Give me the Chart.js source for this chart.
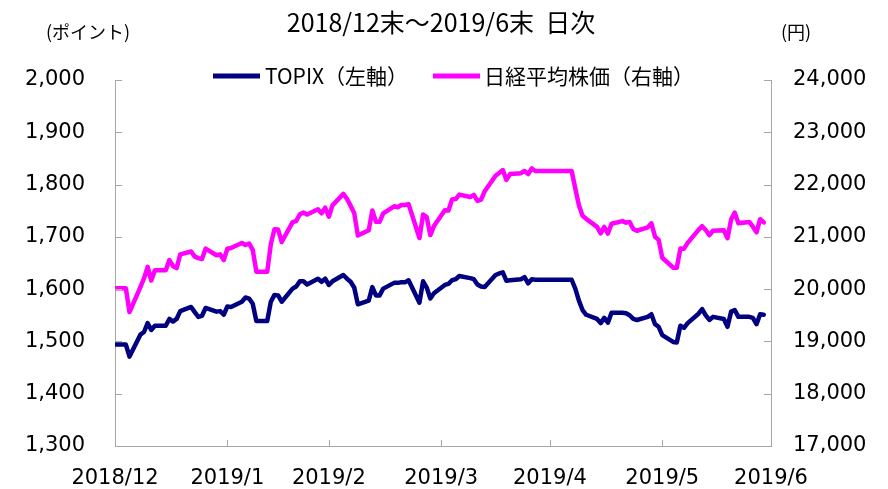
<!DOCTYPE html>
<html><head><meta charset="utf-8">
<script src="https://cdn.jsdelivr.net/npm/chart.js@4.4.1/dist/chart.umd.min.js"></script>
<style>html,body{margin:0;padding:0;background:#fff}canvas{display:block}</style>
</head><body>
<canvas id="c" width="888" height="489"></canvas>
<script>
// Weekday closes 2018/12/31 .. 2019/6/28 (market holidays carry the previous close); one row = Mon..Fri
const startDay = '2018-12-31';
const endDay = '2019-06-30';
const topix = [
1494,1494,1494,1494,1471,
1513,1518,1535,1522,1530,
1530,1543,1538,1543,1558,
1566,1556,1547,1549,1564,
1557,1558,1551,1567,1566,
1576,1584,1582,1572,1539,
1539,1576,1589,1588,1576,
1601,1605,1615,1615,1609,
1620,1614,1620,1608,1615,
1627,1620,1614,1603,1571,
1578,1604,1588,1588,1601,
1612,1612,1613,1613,1617,
1574,1615,1603,1582,1592,
1608,1610,1617,1619,1625,
1621,1619,1609,1605,1604,
1627,1630,1632,1616,1617,
1619,1623,1611,1619,1618,
1618,1618,1618,1618,1618,
1618,1601,1578,1560,1551,
1543,1535,1545,1536,1555,
1555,1554,1550,1543,1541,
1547,1552,1533,1528,1512,
1499,1498,1530,1526,1535,
1553,1562,1550,1541,1547,
1543,1528,1557,1560,1547,
1547,1545,1533,1552,1551
];
const nikkei = [
20015,20015,20015,20015,19562,
20039,20204,20427,20164,20360,
20360,20555,20443,20402,20666,
20719,20623,20594,20575,20774,
20649,20665,20557,20773,20788,
20884,20844,20874,20751,20333,
20333,20864,21144,21140,20901,
21282,21303,21431,21464,21426,
21528,21449,21557,21385,21603,
21822,21726,21597,21456,21026,
21125,21504,21290,21287,21451,
21585,21567,21609,21609,21627,
20977,21428,21378,21034,21206,
21509,21505,21713,21725,21808,
21762,21803,21688,21711,21871,
22169,22222,22278,22090,22200,
22218,22260,22201,22308,22259,
22259,22259,22259,22259,22259,
22259,21924,21603,21402,21345,
21191,21067,21189,21063,21250,
21302,21272,21283,21151,21117,
21183,21260,21003,20943,20601,
20411,20409,20776,20774,20885,
21134,21204,21130,21032,21117,
21124,20973,21334,21463,21259,
21286,21194,21087,21338,21276
];
const seriesNames = ['TOPIX（左軸）', '日経平均株価（右軸）'];
const titleText = '2018/12末～2019/6末  日次';
const leftUnit = '(ポイント)';
const rightUnit = '(円)';
const leftRange = [1300, 2000, 100];
const rightRange = [17000, 24000, 1000];

// categories: weekday dates and their calendar-day offsets; month-end tick labels
const categories = [];
const dayOffset = [];
const monthEndTicks = [];
const monthEndLabels = {};
let lastDay = 0;
{
  const d0 = new Date(startDay + 'T00:00:00Z').getTime();
  const d1 = new Date(endDay + 'T00:00:00Z').getTime();
  lastDay = Math.round((d1 - d0) / 86400000);
  for (let i = 0; i <= lastDay; i++) {
    const d = new Date(d0 + i * 86400000);
    const n = new Date(d0 + (i + 1) * 86400000);
    const wd = d.getUTCDay();
    if (wd !== 0 && wd !== 6 && categories.length < topix.length) {
      categories.push(d.getUTCFullYear() + '/' + (d.getUTCMonth() + 1) + '/' + d.getUTCDate());
      dayOffset.push(i);
    }
    if (n.getUTCMonth() !== d.getUTCMonth() || i === 0) {
      monthEndTicks.push(i);
      monthEndLabels[i] = d.getUTCFullYear() + '/' + (d.getUTCMonth() + 1);
    }
  }
}
const toPoints = arr => arr.map((v, i) => ({x: dayOffset[i], y: v}));

const AXIS = '#a6a6a6';
const tickFont = {family: '"DejaVu Sans", Verdana, sans-serif', size: 21};
const cjk = '"Noto Sans CJK JP", "Noto Sans", sans-serif';

const decor = {
  id: 'decor',
  afterDatasetsDraw(chart) {
    const ctx = chart.ctx;
    const {left, right, bottom} = chart.chartArea;
    const x = chart.scales.x, yL = chart.scales.y, yR = chart.scales.y1;
    ctx.save();
    ctx.strokeStyle = AXIS; ctx.lineWidth = 1;
    ctx.beginPath();
    yL.ticks.forEach(t => { const p = Math.round(yL.getPixelForValue(t.value)) + 0.5; ctx.moveTo(left, p); ctx.lineTo(left + 7, p); });
    yR.ticks.forEach(t => { const p = Math.round(yR.getPixelForValue(t.value)) + 0.5; ctx.moveTo(right, p); ctx.lineTo(right - 7, p); });
    x.ticks.forEach(t => { const p = Math.round(x.getPixelForValue(t.value)) + 0.5; ctx.moveTo(p, bottom); ctx.lineTo(p, bottom - 6); });
    ctx.stroke();
    ctx.restore();
  },
  afterDraw(chart) {
    const ctx = chart.ctx;
    ctx.save();
    ctx.fillStyle = '#000';
    ctx.textBaseline = 'middle';
    ctx.font = '25px ' + cjk;
    ctx.textAlign = 'center';
    ctx.fillText(titleText, 441, 22);
    ctx.font = '18px ' + cjk;
    ctx.fillText(leftUnit, 88, 32);
    ctx.fillText(rightUnit, 796, 32);
    ctx.font = '21px ' + cjk;
    ctx.textAlign = 'left';
    const items = [[213, 265], [433, 484]];
    chart.data.datasets.forEach((ds, i) => {
      const [lx, tx] = items[i];
      ctx.strokeStyle = ds.borderColor; ctx.lineWidth = 5;
      ctx.beginPath(); ctx.moveTo(lx, 76); ctx.lineTo(lx + 47, 76); ctx.stroke();
      ctx.fillText(ds.label, tx, 76);
    });
    ctx.restore();
  }
};

new Chart(document.getElementById('c'), {
  type: 'line',
  data: {
    datasets: [
      {label: seriesNames[0], data: toPoints(topix), yAxisID: 'y', borderColor: '#000080', borderWidth: 4.5, pointRadius: 0, tension: 0, borderJoinStyle: 'round', borderCapStyle: 'round'},
      {label: seriesNames[1], data: toPoints(nikkei), yAxisID: 'y1', borderColor: '#ff00ff', borderWidth: 4.5, pointRadius: 0, tension: 0, borderJoinStyle: 'round', borderCapStyle: 'round'}
    ]
  },
  options: {
    responsive: false,
    animation: false,
    devicePixelRatio: 1,
    layout: {padding: {top: 80, left: 0, right: 0, bottom: 0}},
    plugins: {legend: {display: false}, title: {display: false}, tooltip: {enabled: false}},
    scales: {
      x: {
        type: 'linear', min: 0, max: lastDay,
        grid: {display: true, drawOnChartArea: false, drawTicks: false},
        border: {display: true, color: AXIS, width: 1},
        afterBuildTicks: s => { s.ticks = monthEndTicks.map(v => ({value: v})); },
        ticks: {autoSkip: false, maxRotation: 0, minRotation: 0, padding: 20, color: '#000', font: tickFont,
          callback: v => monthEndLabels[v]},
        afterFit: s => { s.height = 43; }
      },
      y: {
        position: 'left', min: leftRange[0], max: leftRange[1],
        grid: {display: true, drawOnChartArea: false, drawTicks: false},
        border: {display: true, color: AXIS, width: 1},
        ticks: {stepSize: leftRange[2], padding: 30, color: '#000', font: tickFont,
          callback: v => v.toLocaleString('en-US')},
        afterFit: s => { s.width = 115; }
      },
      y1: {
        position: 'right', min: rightRange[0], max: rightRange[1],
        grid: {display: true, drawOnChartArea: false, drawTicks: false},
        border: {display: true, color: AXIS, width: 1},
        ticks: {stepSize: rightRange[2], padding: 22, color: '#000', font: tickFont,
          callback: v => v.toLocaleString('en-US')},
        afterFit: s => { s.width = 117; }
      }
    }
  },
  plugins: [decor]
});
</script>
</body></html>
